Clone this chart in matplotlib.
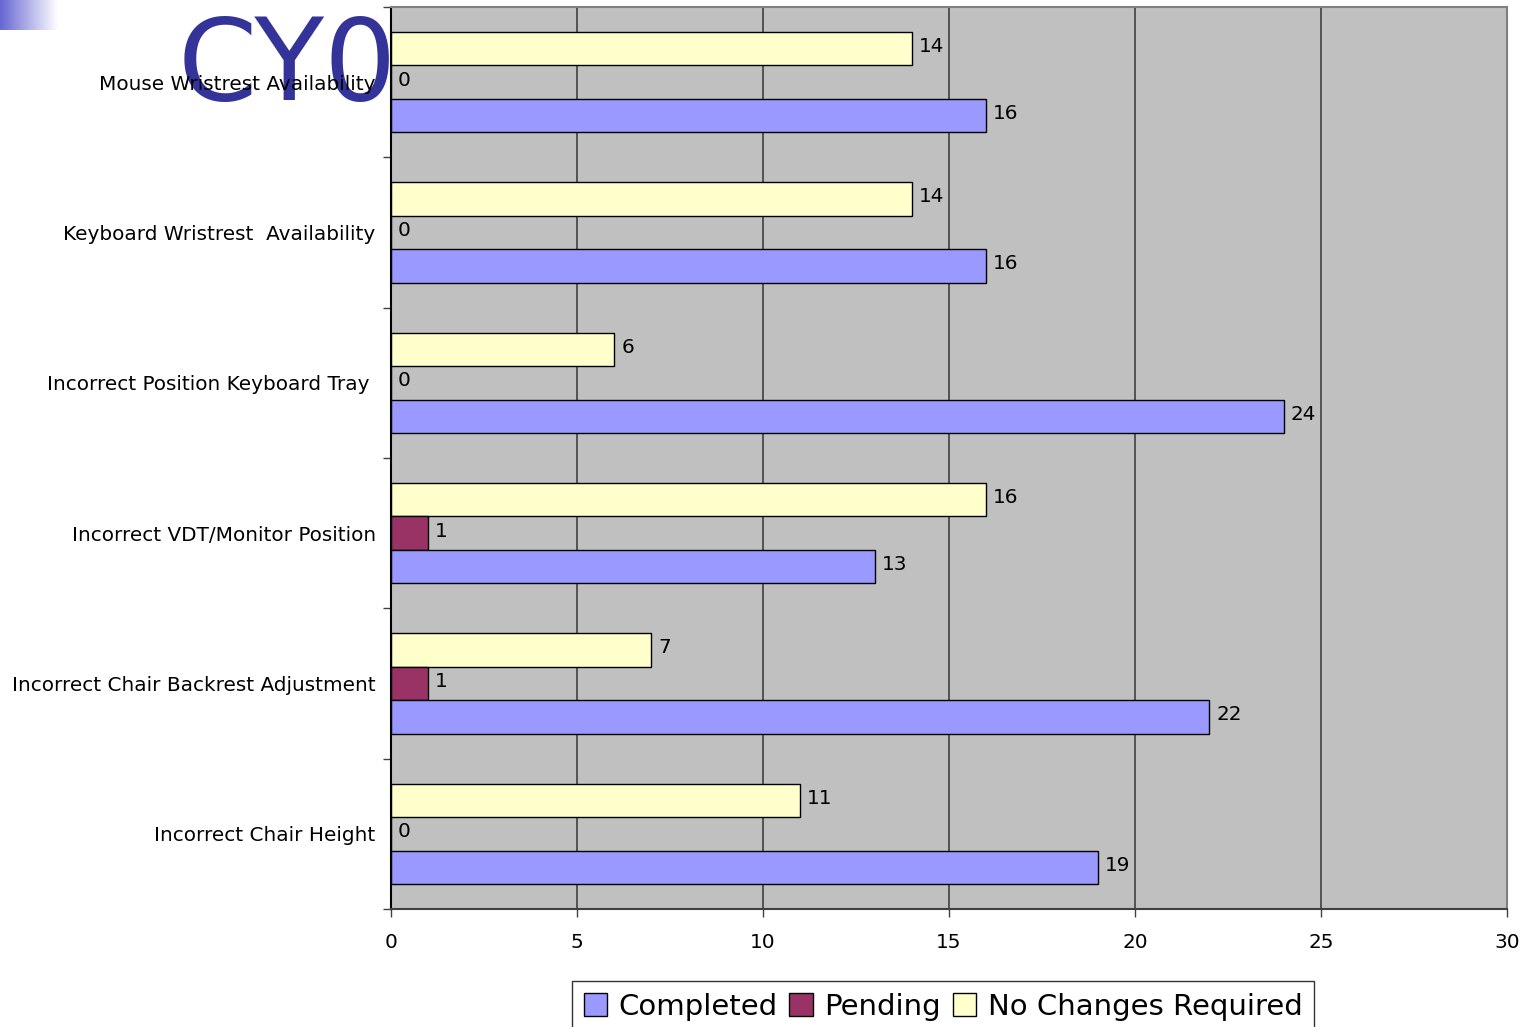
import numpy as np
import matplotlib
matplotlib.use("Agg")
import matplotlib.pyplot as plt
from matplotlib.patches import Patch

categories = [
    "Mouse Wristrest Availability",
    "Keyboard Wristrest  Availability",
    "Incorrect Position Keyboard Tray ",
    "Incorrect VDT/Monitor Position",
    "Incorrect Chair Backrest Adjustment",
    "Incorrect Chair Height",
]
completed = [16, 16, 24, 13, 22, 19]
pending = [0, 0, 0, 1, 1, 0]
no_changes = [14, 14, 6, 16, 7, 11]
xticks = [0, 5, 10, 15, 20, 25, 30]

series = [
    ("No Changes Required", no_changes, "#ffffcc", -1),
    ("Pending", pending, "#993366", 0),
    ("Completed", completed, "#9999ff", 1),
]

plt.rcParams['font.family'] = ['DejaVu Sans']
fig = plt.figure(figsize=(15.32, 10.27), dpi=100)

# title-like overlay (drawn beneath axes labels)
fig.text(178/1532, 1-100/1027, "CY0", fontsize=82, color="#333399",
         ha="left", va="baseline", zorder=-1)

ax = fig.add_axes([391/1532, 1-909/1027, (1507-391)/1532, (909-7)/1027])
ax.set_facecolor("#c0c0c0")

n = len(categories)
y = np.arange(n)
h = 0.223
fs = 14.4
for name, vals, col, off in series:
    bars = ax.barh(y + off*h, vals, height=h, color=col, edgecolor="black",
                   linewidth=1.0, zorder=3)
    for b, v in zip(bars, vals):
        ax.annotate(str(v), xy=(b.get_width(), b.get_y() + b.get_height()/2),
                    xytext=(5, 1.5), textcoords="offset points",
                    ha="left", va="center", fontsize=fs, zorder=4)

ax.set_xlim(0, 30)
ax.set_ylim(n - 0.5, -0.5)
ax.set_xticks(xticks)
ax.set_xticklabels([str(t) for t in xticks], fontsize=fs)
ax.tick_params(axis="x", direction="out", length=6, width=1, color="#404040", pad=11)
ax.set_yticks(y)
ax.set_yticklabels(categories, fontsize=fs)
ax.tick_params(axis="y", which="major", length=0, pad=11)
ax.set_yticks(np.arange(n + 1) - 0.5, minor=True)
ax.tick_params(axis="y", which="minor", direction="out", length=6, width=1, color="#404040")
ax.xaxis.grid(True, color="#404040", linewidth=1.2, zorder=1)
ax.set_axisbelow(True)
for s in ["top", "right"]:
    ax.spines[s].set_color("#808080")
    ax.spines[s].set_linewidth(1.5)
ax.spines["left"].set_color("black")
ax.spines["left"].set_linewidth(1.5)
ax.spines["bottom"].set_color("#404040")
ax.spines["bottom"].set_linewidth(1.5)
for sp in ax.spines.values():
    sp.set_zorder(5)

handles = [Patch(facecolor=c, edgecolor="black", linewidth=1.0, label=nm)
           for nm, _, c, _ in series[::-1]]
leg = fig.legend(handles=handles, loc="upper left", ncol=3,
                 bbox_to_anchor=(572/1532, 1-981/1027), fontsize=21,
                 frameon=True, fancybox=False, edgecolor="black",
                 handlelength=0.8, handleheight=0.8, handletextpad=0.4,
                 columnspacing=0.4, borderpad=0.4, borderaxespad=0)
leg.get_frame().set_linewidth(1.0)

# gradient block at top-left
gax = fig.add_axes([0, 1-30/1027, 58/1532, 30/1027])
grad = np.linspace(0, 1, 256)
start = np.array([102, 102, 210]) / 255.0
end = np.array([1.0, 1.0, 1.0])
img = (start[None, :] * (1 - grad[:, None]) + end[None, :] * grad[:, None])[None, :, :]
gax.imshow(img, aspect="auto", extent=[0, 1, 0, 1])
gax.axis("off")

fig.savefig("out.png", dpi=100)
